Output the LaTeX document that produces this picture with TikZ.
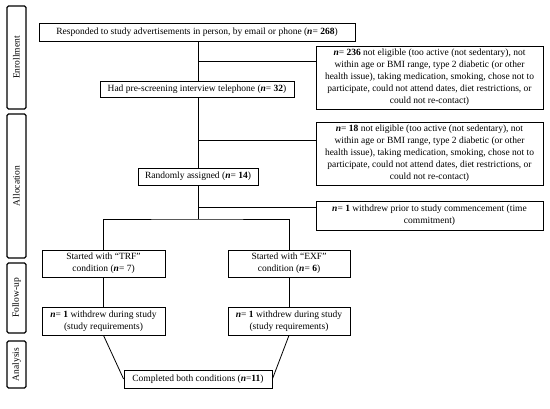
\documentclass[tikz,border=0pt]{standalone}
\usepackage{fontspec}
\setmainfont{Liberation Serif}
\newcommand{\nn}{\textbf{\textit{n}}}
\begin{document}
\begin{tikzpicture}[x=1pt,y=-1pt,
  box/.style={draw, line width=0.8pt, inner sep=1pt, align=center, font=\fontsize{9.5}{12}\selectfont},
  side/.style={draw, line width=1.4pt, rounded corners=1.5pt, minimum width=19pt},
  sidetext/.style={rotate=90, font=\fontsize{9.5}{11}\selectfont},
  conn/.style={line width=0.8pt}]
\useasboundingbox (0,0) rectangle (550,409);
% side labels
\node[side, minimum height=103pt] (s1) at (16.5,57.5) {};
\node[sidetext] (s1t) at (s1.center) {Enrollment};
\node[side, minimum height=144pt] (s2) at (16.5,186) {};
\node[sidetext] (s2t) at (s2.center) {Allocation};
\node[side, minimum height=70pt] (s3) at (16.5,298) {};
\node[sidetext] (s3t) at (s3.center) {Follow-up};
\node[side, minimum height=47pt] (s4) at (16.5,364.5) {};
\node[sidetext] (s4t) at (s4.center) {Analysis};
% main boxes
\node[box, minimum width=316pt, minimum height=18pt] (b1) at (197,32) {Responded to study advertisements in person, by email or phone (\nn= \textbf{268})};
\node[box, minimum width=194pt, minimum height=16pt] (b2) at (197,89) {Had pre-screening interview telephone (\nn= \textbf{32})};
\node[box, minimum width=227pt, minimum height=63pt] (e1) at (429.5,77.5) {\nn= \textbf{236} not eligible (too active (not sedentary), not\\within age or BMI range, type 2 diabetic (or other\\health issue), taking medication, smoking, chose not to\\participate, could not attend dates, diet restrictions, or\\could not re-contact)};
\node[box, minimum width=120pt, minimum height=17pt] (b3) at (198,176.5) {Randomly assigned (\nn= \textbf{14})};
\node[box, minimum width=227pt, minimum height=63pt] (e2) at (429.5,153.5) {\nn= \textbf{18} not eligible (too active (not sedentary), not\\within age or BMI range, type 2 diabetic (or other\\health issue), taking medication, smoking, chose not to\\participate, could not attend dates, diet restrictions, or\\could not re-contact)};
\node[box, minimum width=227pt, minimum height=29pt] (e3) at (429.5,215.5) {\nn= \textbf{1} withdrew prior to study commencement (time\\commitment)};
\node[box, minimum width=123pt, minimum height=27pt] (t1) at (103.5,263.5) {Started with ``TRF''\\condition (\nn= 7)};
\node[box, minimum width=122pt, minimum height=27pt] (t2) at (289,263.5) {Started with ``EXF''\\condition (\nn= \textbf{6})};
\node[box, minimum width=123pt, minimum height=28pt] (w1) at (103.5,321) {\nn= \textbf{1} withdrew during study\\(study requirements)};
\node[box, minimum width=122pt, minimum height=28pt] (w2) at (289,321) {\nn= \textbf{1} withdrew during study\\(study requirements)};
\node[box, minimum width=148pt, minimum height=18pt] (c) at (198,379) {Completed both conditions (\nn=\textbf{11})};
% connectors
\coordinate (j1) at (198,61);
\coordinate (j2) at (198,140);
\coordinate (j3) at (198,207);
\coordinate (j4) at (198,219);
\draw[conn] (b1.south -| j1) -- (b2.north -| j1);
\draw[conn] (j1) -- (j1 -| e1.west);
\draw[conn] (b2.south -| j2) -- (b3.north -| j2);
\draw[conn] (j2) -- (j2 -| e2.west);
\draw[conn] (b3.south -| j3) -- (j4);
\draw[conn] (j3) -- (j3 -| e3.west);
\draw[conn] (t1.north) |- (j4) -| (t2.north);
\draw[conn] (t1.south) -- (w1.north);
\draw[conn] (t2.south) -- (w2.north);
\draw[conn] (w1.south) -- (c.west);
\draw[conn] (w2.south) -- (c.east);
\end{tikzpicture}
\end{document}
